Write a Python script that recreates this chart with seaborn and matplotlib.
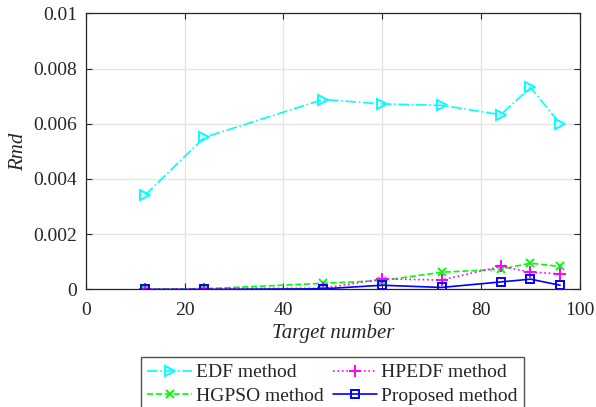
import numpy as np
import pandas as pd
import matplotlib
matplotlib.use("Agg")
import matplotlib.pyplot as plt
import seaborn as sns

# Data
target_number = [12, 24, 48, 60, 72, 84, 90, 96]
edf_rmd = [0.00342, 0.00551, 0.00688, 0.00672, 0.00667, 0.00633, 0.00732, 0.00600]
hgpso_rmd = [0.0, 0.00002, 0.00022, 0.00032, 0.00062, 0.00073, 0.00095, 0.00083]
hpedf_rmd = [0.0, 0.00003, 0.00004, 0.00038, 0.00034, 0.00083, 0.00063, 0.00056]
proposed_rmd = [0.0, 0.0, 0.00002, 0.00015, 0.00007, 0.00027, 0.00037, 0.00015]

series_names = ["EDF method", "HGPSO method", "HPEDF method", "Proposed method"]
x_ticks = [0, 20, 40, 60, 80, 100]
y_ticks = [0, 0.002, 0.004, 0.006, 0.008, 0.01]
y_tick_labels = ["0", "0.002", "0.004", "0.006", "0.008", "0.01"]

sns.set_style("ticks")
plt.rcParams["font.family"] = ["Liberation Serif", "DejaVu Serif"]
plt.rcParams["font.size"] = 14

# long-form table for seaborn
df = pd.DataFrame({
    "target": target_number * 4,
    "rmd": edf_rmd + hgpso_rmd + hpedf_rmd + proposed_rmd,
    "method": np.repeat(series_names, len(target_number)),
})

styles = {
    "EDF method": dict(color="#00ffff", ls="-.", marker=">", ms=7),
    "HGPSO method": dict(color="#00ff00", ls="--", marker="x", ms=5.5),
    "HPEDF method": dict(color="#ff00ff", ls=":", marker="+", ms=8),
    "Proposed method": dict(color="#0000ff", ls="-", marker="s", ms=5.5),
}

fig = plt.figure(figsize=(5.96, 4.07), dpi=100)
ax = fig.add_axes([0.144, 0.289, 0.829, 0.678])

for name in series_names:
    st = styles[name]
    sub = df[df["method"] == name]
    sns.lineplot(
        data=sub, x="target", y="rmd", ax=ax,
        color=st["color"], linestyle=st["ls"], marker=st["marker"],
        markerfacecolor="none", markeredgecolor=st["color"],
        markersize=st["ms"], markeredgewidth=1.4, linewidth=1.2,
        label=name, legend=False,
    )

ax.set_xlim(0, 100)
ax.set_ylim(0, 0.01)
ax.set_xticks(x_ticks)
ax.set_yticks(y_ticks)
ax.set_yticklabels(y_tick_labels)
ax.grid(True, color="#e3e3e3", linewidth=0.9)
ax.tick_params(direction="in", top=True, right=True, length=4, width=0.8,
               color="#262626", labelsize=14, labelcolor="#262626")
ax.tick_params(axis="x", pad=9)
ax.tick_params(axis="y", pad=6)
for sp in ax.spines.values():
    sp.set_visible(True)
    sp.set_color("#262626")
    sp.set_linewidth(0.9)

ax.set_xlabel("Target number", fontstyle="italic", fontsize=15, color="#262626", labelpad=4)
ax.set_ylabel("Rmd", fontstyle="italic", fontsize=15, color="#262626", labelpad=4)

handles, labels = ax.get_legend_handles_labels()
fig.legend(handles, labels, loc="upper center", bbox_to_anchor=(0.558, 0.123),
           ncol=2, frameon=True, fancybox=False, edgecolor="#262626",
           fontsize=14, handlelength=2.3, handletextpad=0.2, columnspacing=0.45,
           labelspacing=0.3, borderpad=0.35, borderaxespad=0)

fig.savefig("out.png", dpi=100)
